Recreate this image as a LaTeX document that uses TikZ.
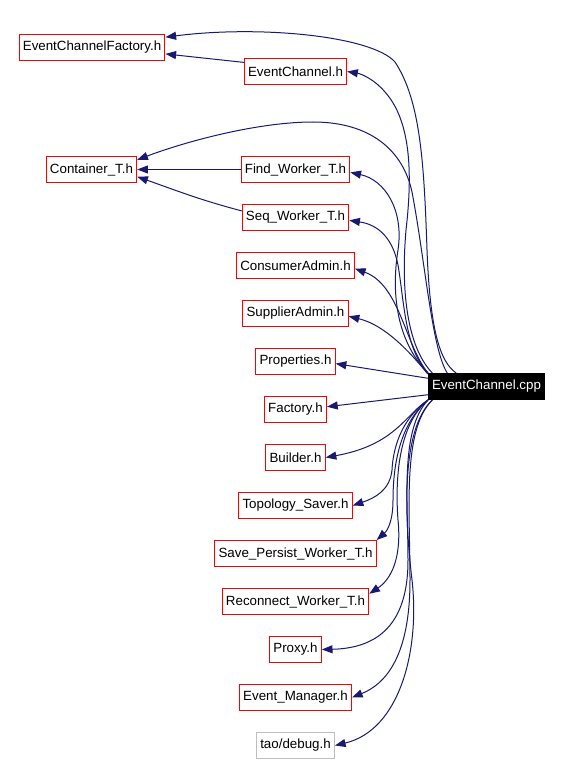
\documentclass[tikz,border=0pt]{standalone}
\usepackage{fontspec}
\setmainfont{Liberation Sans}
\usepackage{xcolor}
\usepackage{tikz}
\usetikzlibrary{shapes.geometric, arrows.meta, positioning}
\definecolor{edgeblue}{RGB}{25,25,112}
\definecolor{boxred}{RGB}{255,0,0}
\definecolor{boxgray}{RGB}{191,191,191}

\begin{document}
\begin{tikzpicture}[x=0.75pt, y=-0.75pt, node distance=36pt, auto,
    font=\fontsize{10}{12}\selectfont,
    block/.style={rectangle, draw=boxred, line width=0.75pt, inner xsep=2.8pt, minimum height=19.5pt},
    extblock/.style={block, draw=boxgray},
    srcblock/.style={block, draw=black, fill=black, text=white},
    line/.style={draw, edgeblue, line width=0.75pt, -{Triangle[length=8pt, width=6pt]}}]

    \useasboundingbox (0,0) rectangle (563,763);

    \node [block] (findworker) at (295.5,169.5) {Find\_Worker\_T.h};
    \node [block, below of=findworker] (seqworker) {Seq\_Worker\_T.h};
    \node [block, below of=seqworker] (consumer) {ConsumerAdmin.h};
    \node [block, below of=consumer] (supplier) {SupplierAdmin.h};
    \node [block, below of=supplier] (properties) {Properties.h};
    \node [block, below of=properties] (factory) {Factory.h};
    \node [block, below of=factory] (builder) {Builder.h};
    \node [block, below of=builder] (topology) {Topology\_Saver.h};
    \node [block, below of=topology] (saveworker) {Save\_Persist\_Worker\_T.h};
    \node [block, below of=saveworker] (reconnect) {Reconnect\_Worker\_T.h};
    \node [block, below of=reconnect] (proxy) {Proxy.h};
    \node [block, below of=proxy] (evmanager) {Event\_Manager.h};
    \node [extblock, below of=evmanager] (debug) {tao/debug.h};
    \node [block, above of=findworker, yshift=37.5pt] (evchannel) {EventChannel.h};
    \node [block, left of=evchannel, xshift=-116.6pt, yshift=18pt] (ecfactory) {EventChannelFactory.h};
    \node [block, left of=findworker, xshift=-117pt] (container) {Container\_T.h};
    \node [srcblock, right of=properties, xshift=107.25pt, yshift=-18.75pt] (cpp) {EventChannel.cpp};

    \path [line] (evchannel.170) -- (ecfactory.-5);
    \path [line] (findworker) -- (container);
    \path [line] (seqworker.173) .. controls (200,200) and (175,190) .. (container.-9);
    \path [line] (cpp.156) .. controls (440,362) and (430,330) .. (427,250)
        .. controls (424,160) and (420,100) .. (395,62)
        .. controls (372,36) and (260,25) .. (ecfactory.8);
    \path [line] (cpp.161) .. controls (432,350) and (425,260) .. (412,192)
        .. controls (403,150) and (370,122) .. (313,122)
        .. controls (260,122) and (190,140) .. (container.12);
    \path [line] (cpp.166) .. controls (410,350) and (400,300) .. (406,230)
        .. controls (413,170) and (410,120) .. (385,92)
        .. controls (375,80) and (362,74) .. (evchannel.east);
    \path [line] (cpp.167) .. controls (400,345) and (390,300) .. (398,250)
        .. controls (404,210) and (385,180) .. (findworker.-3);
    \path [line] (cpp.167) .. controls (405,350) and (404,300) .. (398,265)
        .. controls (393,240) and (380,225) .. (seqworker.-3);
    \path [line] (cpp.167) .. controls (405,345) and (400,285) .. (consumer.-3);
    \path [line] (cpp.168) .. controls (410,352) and (385,325) .. (supplier.-3);
    \path [line] (cpp.172) -- (properties.-3);
    \path [line] (cpp.188) -- (factory.5);
    \path [line] (cpp.193) .. controls (405,415) and (395,445) .. (builder.east);
    \path [line] (cpp.193) .. controls (400,420) and (393,450) .. (392,470)
        .. controls (390,490) and (375,498) .. (topology.east);
    \path [line] (cpp.193) .. controls (398,425) and (393,470) .. (393,500)
        .. controls (393,520) and (388,530) .. (saveworker.north east);
    \path [line] (cpp.193) .. controls (398,425) and (395,480) .. (398,520)
        .. controls (402,560) and (390,580) .. (reconnect.6);
    \path [line] (cpp.193) .. controls (400,430) and (408,500) .. (408,560)
        .. controls (408,610) and (390,648) .. (proxy.east);
    \path [line] (cpp.194) .. controls (402,430) and (410,510) .. (410,580)
        .. controls (410,640) and (395,680) .. (evmanager.east);
    \path [line] (cpp.194) .. controls (400,430) and (405,520) .. (412,580)
        .. controls (420,650) and (400,730) .. (debug.east);
\end{tikzpicture}
\end{document}
